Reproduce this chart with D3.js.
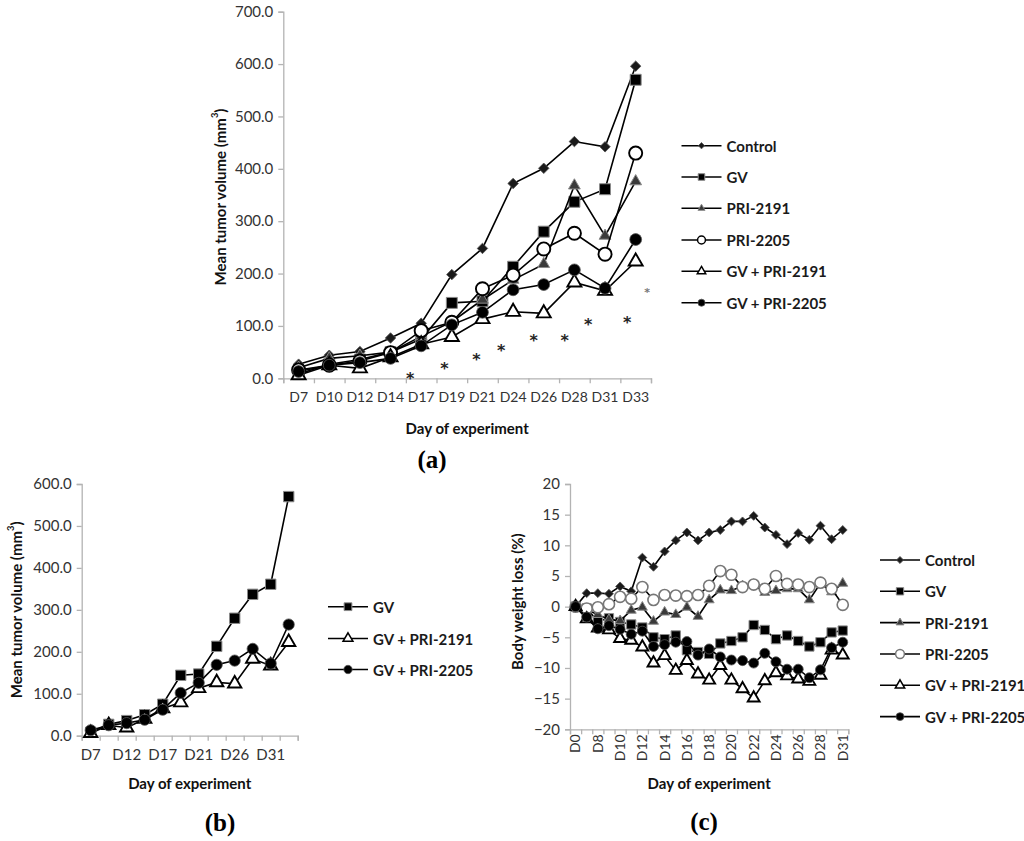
<!DOCTYPE html>
<html><head><meta charset="utf-8">
<script src="https://cdn.jsdelivr.net/npm/d3@7/dist/d3.min.js"></script>
<style>
body{margin:0;background:#fff;}
svg{display:block;}
text{font-family:Lato,"Open Sans",sans-serif;}
</style></head>
<body>
<svg id="chart" width="1024" height="841"></svg>
<script>
// ---------- Data: panel (a) and (b) ----------
const daysA = ["D7","D10","D12","D14","D17","D19","D21","D24","D26","D28","D31","D33"];
const tumorControl   = [27,44,51,77,105,198,248,372,401,452,442,596];
const tumorGV        = [8,27,36,50,75,144,147,213,280,337,361,570];
const tumorPRI2191   = [20,38,43,50,80,108,150,188,218,368,272,376];
const tumorPRI2205   = [16,25,33,49,91,107,171,197,247,277,237,430];
const tumorGV2191    = [6,25,19,40,65,79,113,127,124,183,167,223];
const tumorGV2205    = [13,25,30,38,62,102,126,169,179,207,172,265];
const ticksA = [0,100,200,300,400,500,600,700];
const ticksB = [0,100,200,300,400,500,600];
const labelsB = ["D7","D12","D17","D21","D26","D31"];
// significance asterisks (position in category units, value)
const starPos = [4.14,5.26,6.30,7.11,8.17,9.18,9.95,11.22,11.87];
const starVal = [6,25,43,60,78,78,109,114,168];

// ---------- Data: panel (c) ----------
const daysC = ["D0","D7","D8","D9","D10","D11","D12","D13","D14","D15","D16","D17","D18","D19","D20","D21","D22","D23","D24","D25","D26","D27","D28","D30","D31"];
const labelsC = ["D0","D8","D10","D12","D14","D16","D18","D20","D22","D24","D26","D28","D31"];
const bwControl = [0,2.2,2.2,2.1,3.3,2.5,8.0,6.5,9.0,10.8,12.1,10.8,12.1,12.5,13.9,13.9,14.8,12.9,11.7,10.2,12.0,10.9,13.2,11.0,12.5];
const bwGV      = [0,-0.3,-2.4,-1.9,-2.5,-2.9,-3.4,-5.0,-5.3,-4.7,-7.1,-7.4,-7.7,-6.0,-5.6,-5.0,-3.0,-3.8,-5.3,-4.7,-5.6,-6.5,-5.8,-4.2,-3.9];
const bwPRI2191 = [0,-0.5,-1.3,-2.1,-2.3,-0.6,-0.1,-2.4,-0.9,-1.3,-0.1,-1.6,1.1,2.7,2.6,3.4,3.6,2.3,2.6,2.9,2.9,1.1,3.8,2.4,3.8];
const bwPRI2205 = [0,-0.3,-0.1,0.4,1.6,1.3,3.2,1.1,1.9,1.8,1.7,1.9,3.4,5.8,5.2,3.2,3.6,2.9,5.0,3.7,3.6,3.2,3.9,2.9,0.3];
const bwGV2191  = [0,-2.0,-3.5,-3.8,-5.2,-5.5,-6.6,-9.2,-8.0,-10.4,-8.8,-11.0,-12.0,-9.6,-12.0,-13.4,-14.9,-12.1,-10.8,-11.3,-11.8,-12.2,-11.2,-7.1,-7.9];
const bwGV2205  = [0,-1.7,-3.6,-3.1,-3.7,-4.5,-4.0,-6.5,-6.2,-5.8,-5.7,-7.9,-6.9,-8.2,-8.7,-8.8,-9.2,-7.6,-9.0,-10.2,-10.2,-11.6,-10.3,-6.7,-5.8];
const ticksC = [-20,-15,-10,-5,0,5,10,15,20];

const seriesNames = ["Control","GV","PRI-2191","PRI-2205","GV + PRI-2191","GV + PRI-2205"];

const svg = d3.select("#chart");
const AXIS = "#b3b3b3", TXT = "#333";

// marker styles
function markerStyle(name, scale, panel){
  const s = scale;
  const gray2205 = panel === "c";
  switch(name){
    case "Control": return {type:d3.symbolSquare, size:55*s, rot:45, fill:"#1a1a1a", stroke:"#555", sw:0.8};
    case "GV": return {type:d3.symbolSquare, size:120*s, rot:0, fill:"#000", stroke:"#8a8a8a", sw:1};
    case "PRI-2191": return {type:d3.symbolTriangle, size:60*s, rot:0, fill:"#3a3a3a", stroke:"#8a8a8a", sw:1};
    case "PRI-2205": return {type:d3.symbolCircle, size:135*s, rot:0, fill:"#fff", stroke: gray2205?"#777":"#000", sw:gray2205?1.6:1.9};
    case "GV + PRI-2191": return {type:d3.symbolTriangle, size:85*s, rot:0, fill:"#fff", stroke:"#000", sw:1.9};
    case "GV + PRI-2205": return {type:d3.symbolCircle, size:110*s, rot:0, fill:"#000", stroke:"#555", sw:0.8};
  }
}

function drawPanel(cfg){
  const g = svg.append("g");
  const n = cfg.cats.length;
  const x = d3.scaleBand().domain(cfg.cats).range([cfg.left, cfg.right]).padding(0);
  const xb = d3.scaleLinear().domain([0,n]).range([cfg.left, cfg.right]);
  const y = d3.scaleLinear().domain(cfg.yDomain).range([cfg.bottom, cfg.top]);

  // y axis
  const ya = g.append("g").attr("transform",`translate(${cfg.left},0)`)
    .call(d3.axisLeft(y).tickValues(cfg.yTicks).tickSize(5).tickPadding(5).tickFormat(cfg.yFmt));
  ya.select(".domain").attr("stroke",AXIS).attr("stroke-width",1.3);
  ya.selectAll(".tick line").attr("stroke",AXIS).attr("stroke-width",1.3);
  ya.selectAll(".tick text").attr("fill",TXT).style("font-size",cfg.yfs+"px");

  // x axis (boundary ticks)
  const xAxisY = y(cfg.yDomain[0]);
  const xa = g.append("g").attr("transform",`translate(0,${xAxisY})`)
    .call(d3.axisBottom(xb).tickValues(d3.range(n+1)).tickSize(5).tickFormat(""));
  xa.select(".domain").attr("stroke",AXIS).attr("stroke-width",1.3);
  xa.selectAll(".tick line").attr("stroke",AXIS).attr("stroke-width",1.3);
  // x labels
  const xl = g.append("g").attr("transform",`translate(0,${xAxisY})`)
    .call(d3.axisBottom(x).tickValues(cfg.xLabels).tickSize(0).tickPadding(cfg.xPad));
  xl.select(".domain").remove();
  xl.selectAll(".tick text").attr("fill",TXT).style("font-size",cfg.xfs+"px");
  if(cfg.rotate){
    xl.selectAll(".tick text").attr("transform","rotate(-90)").attr("text-anchor","end")
      .attr("x",-cfg.xPad).attr("y",0).attr("dy","0.35em");
  }

  // series
  cfg.series.forEach((vals,k)=>{
    const name = cfg.names[k];
    const pts = vals.map((v,i)=>[x(cfg.cats[i])+x.bandwidth()/2, y(v)]);
    g.append("path").attr("d",d3.line()(pts)).attr("fill","none").attr("stroke","#000").attr("stroke-width",cfg.lw);
    const st = markerStyle(name, cfg.mscale, cfg.id);
    g.append("g").selectAll("path").data(pts).join("path")
      .attr("d", d3.symbol().type(st.type).size(st.size))
      .attr("transform", d=>`translate(${d[0]},${d[1]}) rotate(${st.rot})`)
      .attr("fill",st.fill).attr("stroke",st.stroke).attr("stroke-width",st.sw);
  });

  // y title
  const yt = g.append("text").attr("transform",`translate(${cfg.yTitleX},${(cfg.top+cfg.bottom)/2 + (cfg.yTitleDy||0)}) rotate(-90)`)
    .attr("text-anchor","middle").attr("dominant-baseline","central")
    .style("font-size",cfg.tfs+"px").style("font-weight","bold").attr("fill","#111");
  if(cfg.sup){
    yt.append("tspan").text(cfg.yTitle);
    yt.append("tspan").text("3").attr("baseline-shift","super").style("font-size",(cfg.tfs*0.62)+"px");
    yt.append("tspan").text(")");
  } else yt.text(cfg.yTitle);

  // x title
  g.append("text").attr("x",(cfg.left+cfg.right)/2).attr("y",cfg.xTitleY)
    .attr("text-anchor","middle").attr("dominant-baseline","central")
    .style("font-size",cfg.tfs+"px").style("font-weight","bold").attr("fill","#111").text("Day of experiment");

  // legend
  const lg = g.append("g");
  cfg.legNames.forEach((name,k)=>{
    const ly = cfg.legY[k];
    lg.append("line").attr("x1",cfg.legX).attr("x2",cfg.legX+40).attr("y1",ly).attr("y2",ly)
      .attr("stroke","#000").attr("stroke-width",1.6);
    const st = markerStyle(name, cfg.legScale, cfg.id);
    lg.append("path").attr("d",d3.symbol().type(st.type).size(st.size))
      .attr("transform",`translate(${cfg.legX+20},${ly}) rotate(${st.rot})`)
      .attr("fill",st.fill).attr("stroke",st.stroke).attr("stroke-width",Math.min(st.sw,1.5));
    lg.append("text").attr("x",cfg.legX+45).attr("y",ly).attr("dominant-baseline","central")
      .style("font-size",cfg.legFs+"px").style("font-weight","bold").attr("fill","#1a1a1a").text(name);
  });

  // panel label
  g.append("text").attr("x",cfg.tagX).attr("y",cfg.tagY).attr("text-anchor","middle")
    .attr("dominant-baseline","central").style("font-family","'Liberation Serif','DejaVu Serif',serif")
    .style("font-size","25px").style("font-weight","bold").attr("fill","#000").text(cfg.tag);

  return {x, xb, y, g};
}

// Panel (a)
const pa = drawPanel({
  id:"a", cats:daysA, left:283.3, right:651, top:11.7, bottom:378.3,
  yDomain:[0,700], yTicks:ticksA, yFmt:d3.format(".1f"), yfs:15, xfs:14, tfs:15, xPad:14,
  xLabels:daysA, lw:1.6, mscale:1,
  series:[tumorControl,tumorGV,tumorPRI2191,tumorPRI2205,tumorGV2191,tumorGV2205],
  names:seriesNames,
  yTitle:"Mean tumor volume (mm", sup:true, yTitleX:219.5, yTitleDy:2,
  xTitleY:428,
  legNames:seriesNames, legX:681.5, legY:[145.7,177,208.3,240,271.3,302.7], legScale:0.36, legFs:15,
  tag:"(a)", tagX:432, tagY:459
});
// asterisks
pa.g.append("g").style("opacity",0.99).selectAll("text").data(starPos).join("text")
  .attr("x",(d)=>pa.xb(d)).attr("y",(d,i)=>pa.y(starVal[i])+ (i===starPos.length-1?6:9))
  .attr("text-anchor","middle")
  .style("font-family","'DejaVu Sans',sans-serif").style("font-weight","bold")
  .style("font-size",(d,i)=>i===starPos.length-1?"11px":"16px")
  .attr("fill",(d,i)=>i===starPos.length-1?"#777":"#222").text("*");

// Panel (b)
drawPanel({
  id:"b", cats:daysA, left:81.7, right:297.7, top:484, bottom:735.7,
  yDomain:[0,600], yTicks:ticksB, yFmt:d3.format(".1f"), yfs:15, xfs:15, tfs:15, xPad:14,
  xLabels:labelsB, lw:1.6, mscale:0.9,
  series:[tumorGV,tumorGV2191,tumorGV2205],
  names:["GV","GV + PRI-2191","GV + PRI-2205"],
  yTitle:"Mean tumor volume (mm", sup:true, yTitleX:15.5, yTitleDy:0,
  xTitleY:782.5,
  legNames:["GV","GV + PRI-2191","GV + PRI-2205"], legX:328, legY:[606.7,638.5,669.5], legScale:0.5, legFs:15,
  tag:"(b)", tagX:220, tagY:822
});

// Panel (c)
drawPanel({
  id:"c", cats:daysC, left:570, right:848.3, top:484, bottom:729.3,
  yDomain:[-20,20], yTicks:ticksC, yFmt:d3.format("d"), yfs:15, xfs:14, tfs:15, xPad:5,
  xLabels:labelsC, rotate:true, lw:1.6, mscale:0.72,
  series:[bwControl,bwGV,bwPRI2191,bwPRI2205,bwGV2191,bwGV2205],
  names:seriesNames,
  yTitle:"Body weight loss (%)", sup:false, yTitleX:517, yTitleDy:-5,
  xTitleY:783,
  legNames:seriesNames, legX:880, legY:[560,591.3,622.6,654,685.3,716.6], legScale:0.45, legFs:15,
  tag:"(c)", tagX:704, tagY:821
});
</script>
</body></html>
